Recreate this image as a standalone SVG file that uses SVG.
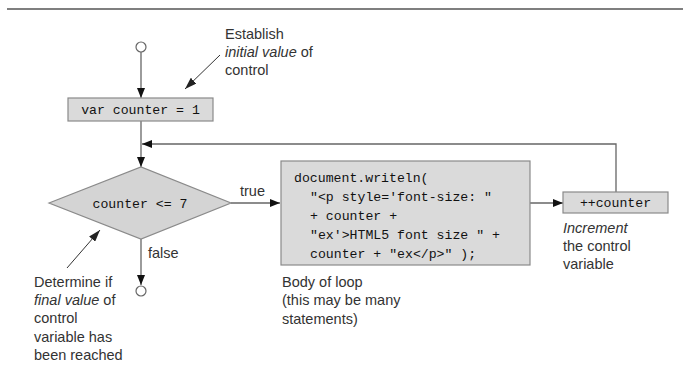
<svg xmlns="http://www.w3.org/2000/svg" width="683" height="372" viewBox="0 0 683 372">
<style>
.lbl{font-family:"Liberation Sans",Arial,sans-serif;font-size:14.5px;fill:#333}
.it{font-style:italic}
.code{font-family:"Liberation Mono","DejaVu Sans Mono",monospace;font-size:13.2px;fill:#111}
.box{fill:#dadada;stroke:#8a8a8a;stroke-width:1.2}
.ln{fill:none;stroke:#666;stroke-width:1.3}
.ann{fill:none;stroke:#333;stroke-width:1}
.term{fill:#fff;stroke:#666;stroke-width:1.2}
</style>
<defs>
<marker id="ah" viewBox="0 0 10 8" refX="10" refY="4" markerWidth="10" markerHeight="8" markerUnits="userSpaceOnUse" orient="auto">
<path d="M0,0 L10,4 L0,8 z" fill="#111"/>
</marker>
<marker id="aa" viewBox="0 0 12 8" refX="12" refY="4" markerWidth="12" markerHeight="8" markerUnits="userSpaceOnUse" orient="auto">
<path d="M0,0 L12,4 L0,8 z" fill="#222"/>
</marker>
</defs>
<rect width="683" height="372" fill="#fff"/>
<line x1="7" y1="9" x2="683" y2="9" stroke="#555" stroke-width="1.6"/>

<g id="connectors">
<line class="ln" x1="141" y1="52" x2="141" y2="98" marker-end="url(#ah)"/>
<line class="ln" x1="141" y1="121" x2="141" y2="167" marker-end="url(#ah)"/>
<polyline class="ln" points="616,192 616,144 142,144" marker-end="url(#ah)"/>
<line class="ln" x1="231" y1="203" x2="280" y2="203" marker-end="url(#ah)"/>
<line class="ln" x1="530" y1="203" x2="563" y2="203" marker-end="url(#ah)"/>
<line class="ln" x1="141" y1="239" x2="141" y2="285" marker-end="url(#ah)"/>
<line class="ann" x1="220" y1="55" x2="185" y2="89" marker-end="url(#aa)"/>
<line class="ann" x1="67" y1="268" x2="100" y2="230" marker-end="url(#aa)"/>
<text class="lbl" x="240" y="196">true</text>
<text class="lbl" x="148" y="258">false</text>
</g>

<g id="start">
<circle class="term" cx="141" cy="47" r="5"/>
</g>

<g id="init">
<rect class="box" x="68" y="98" width="145" height="23"/>
<text class="code" x="140.5" y="114" text-anchor="middle">var counter = 1</text>
</g>

<g id="cond">
<polygon points="49,203 141,167 231,203 141,239" fill="#d4d4d4" stroke="#8a8a8a" stroke-width="1.2"/>
<text class="code" x="140" y="207.5" text-anchor="middle">counter <tspan>&lt;= 7</tspan></text>
</g>

<g id="body">
<rect class="box" x="281" y="161" width="249" height="104"/>
<text class="code" x="294" y="182">document.writeln(</text>
<text class="code" x="310" y="201">"&lt;p style='font-size: "</text>
<text class="code" x="310" y="220">+ counter +</text>
<text class="code" x="310" y="239">"ex'&gt;HTML5 font size " +</text>
<text class="code" x="310" y="258">counter + "ex&lt;/p&gt;" );</text>
</g>

<g id="increment">
<rect class="box" x="563" y="192" width="105" height="21"/>
<text class="code" x="615.5" y="207" text-anchor="middle">++counter</text>
</g>

<g id="end">
<circle class="term" cx="141" cy="291" r="5"/>
</g>

<g id="note-init">
<text class="lbl" x="225" y="39">Establish</text>
<text class="lbl" x="225" y="57"><tspan class="it">initial value</tspan> of</text>
<text class="lbl" x="225" y="75">control</text>
</g>

<g id="note-final">
<text class="lbl" x="34" y="287">Determine if</text>
<text class="lbl" x="34" y="305"><tspan class="it">final value</tspan> of</text>
<text class="lbl" x="34" y="323">control</text>
<text class="lbl" x="34" y="342">variable has</text>
<text class="lbl" x="34" y="360">been reached</text>
</g>

<g id="note-body">
<text class="lbl" x="282" y="287">Body of loop</text>
<text class="lbl" x="282" y="305">(this may be many</text>
<text class="lbl" x="282" y="324">statements)</text>
</g>

<g id="note-inc">
<text class="lbl it" x="563" y="233">Increment</text>
<text class="lbl" x="563" y="251">the control</text>
<text class="lbl" x="563" y="269">variable</text>
</g>
</svg>
